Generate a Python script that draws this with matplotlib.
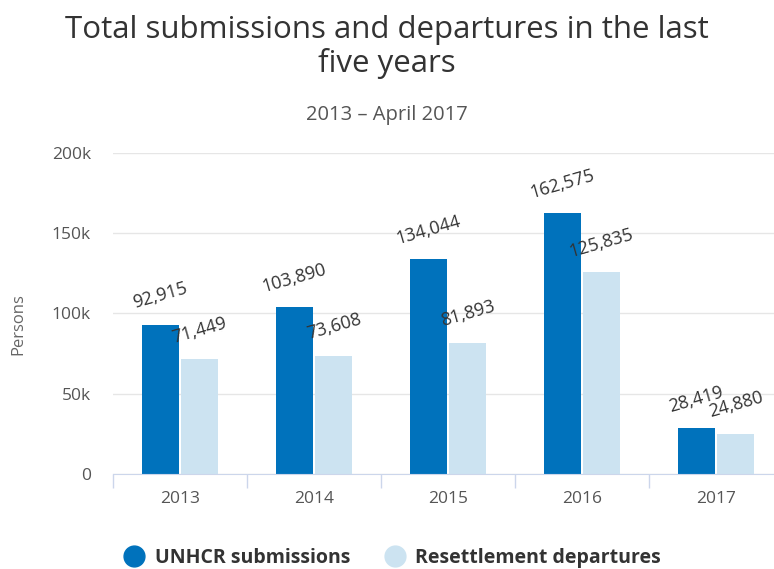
import numpy as np
import matplotlib.pyplot as plt
from matplotlib.lines import Line2D

years = ["2013", "2014", "2015", "2016", "2017"]
submissions = [92915, 103890, 134044, 162575, 28419]
departures = [71449, 73608, 81893, 125835, 24880]

DARK = "#0072bc"
LIGHT = "#cce3f1"

plt.rcParams['font.family'] = ['Open Sans', 'DejaVu Sans']

fig = plt.figure(figsize=(7.74, 5.69), dpi=100)
# plot area runs past the right edge like in the original screenshot
ax = fig.add_axes([113 / 774, 95 / 569, 670 / 774, 321 / 569])

x = np.arange(len(years))
w = 0.27
off = 0.146
b1 = ax.bar(x - off, submissions, w, color=DARK, zorder=3)
b2 = ax.bar(x + off, departures, w, color=LIGHT, zorder=3)

# data labels, slightly rotated
for bars, vals in ((b1, submissions), (b2, departures)):
    for r, v in zip(bars, vals):
        ax.annotate(f"{v:,}", (r.get_x() + r.get_width() / 2, v),
                    xytext=(0, 21), textcoords="offset points",
                    ha="center", va="center", rotation=16,
                    fontsize=13, color="#333333", zorder=5)

ax.set_xlim(-0.5, 4.5)
ax.set_ylim(0, 200000)
ax.set_yticks([0, 50000, 100000, 150000, 200000])
ax.set_yticklabels(["0", "50k", "100k", "150k", "200k"])
ax.set_xticks(np.arange(-0.5, 5, 1))
ax.set_xticklabels([])
ax.set_xticks(x, minor=True)
ax.set_xticklabels(years, minor=True)
ax.tick_params(axis="x", which="major", length=10, color="#ccd6eb", width=1)
ax.tick_params(axis="x", which="minor", length=0, pad=12, labelsize=12.5, labelcolor="#555555")
ax.tick_params(axis="y", length=0, pad=16, labelsize=12.5, labelcolor="#555555")

ax.grid(axis="y", color="#e6e6e6", linewidth=1, zorder=0)
for s in ("top", "right", "left"):
    ax.spines[s].set_visible(False)
ax.spines["bottom"].set_color("#ccd6eb")
ax.spines["bottom"].set_zorder(4)

fig.text(18 / 774, 1 - 324 / 569, "Persons", rotation=90, ha="center", va="center",
         fontsize=12, color="#666666")

fig.text(0.5, 1 - 47 / 569, "Total submissions and departures in the last\nfive years",
         ha="center", va="center", fontsize=22.5, color="#333333", linespacing=1.1)
fig.text(0.5, 1 - 115 / 569, "2013 \u2013 April 2017", ha="center", va="center",
         fontsize=14.5, color="#555555")

handles = [Line2D([0], [0], marker="o", linestyle="", markersize=15, color=DARK),
           Line2D([0], [0], marker="o", linestyle="", markersize=15, color=LIGHT)]
fig.legend(handles, ["UNHCR submissions", "Resettlement departures"],
           loc="center", bbox_to_anchor=(388 / 774, 1 - 558 / 569), ncol=2,
           frameon=False, prop={"weight": "bold", "size": 14},
           handletextpad=0.05, columnspacing=1.3, labelcolor="#333333")

fig.savefig("out.png", dpi=100)
